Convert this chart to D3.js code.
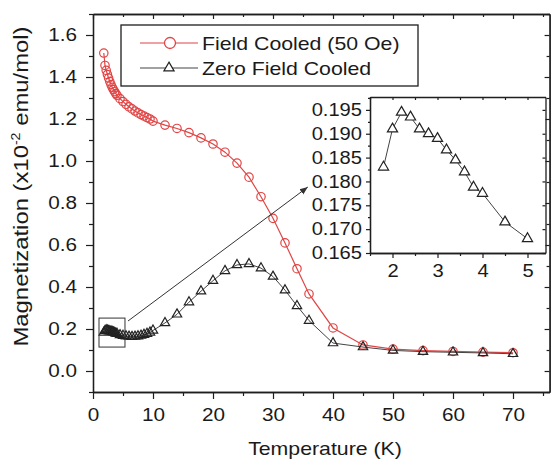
<!DOCTYPE html>
<html><head><meta charset="utf-8">
<script src="https://cdn.jsdelivr.net/npm/d3@7"></script>
<style>
body{margin:0;background:#fff}
text{font-family:"Liberation Sans",Arial,sans-serif;fill:#1a1a1a}
</style>
</head><body>
<svg id="c" width="551" height="461"></svg>
<script>
// ---- data ----
const fcTemp = [1.8,2.0,2.2,2.4,2.6,2.8,3.0,3.2,3.4,3.6,3.8,4.0,4.5,5.0,5.5,6.0,6.5,7.0,7.5,8.0,8.5,9.0,9.5,10,12,14,16,18,20,22,24,26,28,30,32,34,36,40,45,50,55,60,65,70];
const fcMag  = [1.514,1.455,1.432,1.412,1.395,1.378,1.364,1.351,1.340,1.330,1.321,1.313,1.297,1.283,1.270,1.258,1.248,1.238,1.229,1.221,1.214,1.207,1.200,1.190,1.171,1.155,1.135,1.110,1.081,1.042,0.990,0.923,0.830,0.727,0.610,0.487,0.367,0.205,0.124,0.104,0.097,0.093,0.090,0.087];
const zfcTemp = [1.8,2.0,2.2,2.4,2.6,2.8,3.0,3.2,3.4,3.6,3.8,4.0,4.5,5.0,5.5,6.0,6.5,7.0,7.5,8.0,8.5,9.0,9.5,10,12,14,16,18,20,22,24,26,28,30,32,34,36,40,45,50,55,60,65,70];
const zfcMag  = [0.183,0.191,0.1945,0.1935,0.191,0.190,0.189,0.1866,0.1845,0.182,0.1788,0.1775,0.1715,0.168,0.166,0.164,0.163,0.164,0.166,0.169,0.173,0.178,0.184,0.193,0.229,0.270,0.328,0.380,0.430,0.477,0.505,0.510,0.490,0.450,0.385,0.310,0.240,0.133,0.114,0.098,0.092,0.089,0.086,0.082];
const insetTemp = [1.8,2.0,2.2,2.4,2.6,2.8,3.0,3.2,3.4,3.6,3.8,4.0,4.5,5.0];
const insetMag  = [0.183,0.191,0.1945,0.1935,0.191,0.190,0.189,0.1866,0.1845,0.182,0.1788,0.1775,0.1715,0.168];
const xTicks = [0,10,20,30,40,50,60,70];
const xMinor = [5,15,25,35,45,55,65,75];
const yTicks = [0.0,0.2,0.4,0.6,0.8,1.0,1.2,1.4,1.6];
const yMinor = [-0.1,0.1,0.3,0.5,0.7,0.9,1.1,1.3,1.5,1.7];
const insetXTicks = [2,3,4,5];
const insetXMinor = [1.5,2.5,3.5,4.5];
const insetYTicks = [0.165,0.170,0.175,0.180,0.185,0.190,0.195];
const insetYMinor = [0.1675,0.1725,0.1775,0.1825,0.1875,0.1925,0.1975];
const seriesNames = ["Field Cooled (50 Oe)","Zero Field Cooled"];
const xTitle = "Temperature (K)";
// zoom box (data units) and arrow anchor
const zoomBox = {t0:1.0, t1:5.33, m0:0.114, m1:0.252};
const arrowFrom = [5.83, 0.238], arrowTo = [35.8, 0.876];

// ---- drawing ----
const RED = "#e04545", BLK = "#222", AX = "#1e1e1e";
const WIDEN = 1.15;
const svg = d3.select("#c");
const x = d3.scaleLinear().domain([0,76.1]).range([93,549.6]);
const y = d3.scaleLinear().domain([-0.1,1.7]).range([392,14]);
const xi = d3.scaleLinear().domain([1.5,5.4]).range([370,545.5]);
const yi = d3.scaleLinear().domain([0.165,0.1977]).range([253,97]);

function widen(sel, k){
  sel.each(function(){
    const w = this.getComputedTextLength();
    if (w > 0) d3.select(this).attr("textLength", w*k).attr("lengthAdjust","spacingAndGlyphs");
  });
}
function styleAxis(g, fs){
  g.selectAll("path.domain").attr("stroke",AX).attr("stroke-width",1.3);
  g.selectAll(".tick line").attr("stroke",AX).attr("stroke-width",1.2);
  const t = g.selectAll("text").attr("font-size",fs).attr("fill","#1a1a1a")
    .attr("font-family","Liberation Sans, Arial, sans-serif");
  widen(t, WIDEN);
}
function addAxis(axis, tx, ty, fs){
  const g = svg.append("g").attr("transform",`translate(${tx},${ty})`).call(axis);
  styleAxis(g, fs||18);
  return g;
}
const [X0,X1] = x.range(), [Y0,Y1] = y.range();
// main axes
addAxis(d3.axisBottom(x).tickValues(xTicks).tickSize(7).tickSizeOuter(0).tickPadding(9).tickFormat(d3.format("d")),0,Y0);
addAxis(d3.axisBottom(x).tickValues(xMinor).tickSize(4).tickSizeOuter(0).tickFormat(""),0,Y0);
addAxis(d3.axisLeft(y).tickValues(yTicks).tickSize(7).tickSizeOuter(0).tickPadding(9).tickFormat(d3.format(".1f")),X0,0);
addAxis(d3.axisLeft(y).tickValues(yMinor).tickSize(4).tickSizeOuter(0).tickFormat(""),X0,0);
addAxis(d3.axisTop(x).tickValues(xTicks).tickSize(-5).tickSizeOuter(0).tickFormat(""),0,Y1);
addAxis(d3.axisTop(x).tickValues(xMinor).tickSize(-3).tickSizeOuter(0).tickFormat(""),0,Y1);
addAxis(d3.axisRight(y).tickValues(yTicks).tickSize(-5).tickSizeOuter(0).tickFormat(""),X1,0);
addAxis(d3.axisRight(y).tickValues(yMinor).tickSize(-3).tickSizeOuter(0).tickFormat(""),X1,0);

// titles
const xt = svg.append("text").attr("x",325).attr("y",455).attr("text-anchor","middle")
  .attr("font-size",18.5).text(xTitle);
widen(xt, WIDEN);
const yt = svg.append("text").attr("transform","translate(28,186.5) rotate(-90)")
  .attr("text-anchor","middle").attr("font-size",21);
yt.append("tspan").text("Magnetization (x10");
yt.append("tspan").attr("font-size",12.5).attr("dy",-8).text("-2");
yt.append("tspan").attr("dy",8).text(" emu/mol)");
yt.attr("textLength",320).attr("lengthAdjust","spacingAndGlyphs");

// series
const fc = fcTemp.map((t,i)=>[t,fcMag[i]]);
const zfc = zfcTemp.map((t,i)=>[t,zfcMag[i]]);
const line = d3.line().x(d=>x(d[0])).y(d=>y(d[1]));
const tri = d3.symbol(d3.symbolTriangle, 38)();
const triL = d3.symbol(d3.symbolTriangle, 45)();

svg.append("path").attr("d",line(fc)).attr("fill","none").attr("stroke",RED).attr("stroke-width",1.2);
svg.append("g").selectAll("circle").data(fc).join("circle")
  .attr("cx",d=>x(d[0])).attr("cy",d=>y(d[1])).attr("r",4.2)
  .attr("fill","none").attr("stroke",RED).attr("stroke-width",1.2);
svg.append("path").attr("d",line(zfc)).attr("fill","none").attr("stroke","#444").attr("stroke-width",1);
svg.append("g").selectAll("path").data(zfc).join("path")
  .attr("d",tri).attr("transform",d=>`translate(${x(d[0])},${y(d[1])})`)
  .attr("fill","none").attr("stroke",BLK).attr("stroke-width",1.2);

// zoom box + arrow
svg.append("rect").attr("x",x(zoomBox.t0)).attr("y",y(zoomBox.m1))
  .attr("width",x(zoomBox.t1)-x(zoomBox.t0)).attr("height",y(zoomBox.m0)-y(zoomBox.m1))
  .attr("fill","none").attr("stroke","#333").attr("stroke-width",1);
svg.append("defs").append("marker").attr("id","ah").attr("viewBox","0 0 10 10")
  .attr("refX",10).attr("refY",5).attr("markerWidth",8).attr("markerHeight",8)
  .attr("markerUnits","userSpaceOnUse").attr("orient","auto")
  .append("path").attr("d","M0,1 L10,5 L0,9 Z").attr("fill","#333");
svg.append("line").attr("x1",x(arrowFrom[0])).attr("y1",y(arrowFrom[1]))
  .attr("x2",x(arrowTo[0])).attr("y2",y(arrowTo[1]))
  .attr("stroke","#333").attr("stroke-width",1).attr("marker-end","url(#ah)");

// legend
const lg = svg.append("g");
lg.append("rect").attr("x",121).attr("y",25).attr("width",297).attr("height",61)
  .attr("fill","#fff").attr("stroke",AX).attr("stroke-width",1.3);
seriesNames.forEach((name,i)=>{
  const cy = 43 + i*25;
  const col = i===0?RED:"#444";
  lg.append("line").attr("x1",140).attr("x2",198).attr("y1",cy).attr("y2",cy)
    .attr("stroke",col).attr("stroke-width",1.1);
  if(i===0) lg.append("circle").attr("cx",170).attr("cy",cy).attr("r",5.5)
     .attr("fill","#fff").attr("stroke",RED).attr("stroke-width",1.3);
  else lg.append("path").attr("d",triL).attr("transform",`translate(169,${cy})`)
     .attr("fill","#fff").attr("stroke",BLK).attr("stroke-width",1.2);
  const t = lg.append("text").attr("x",202).attr("y",cy).attr("dy","0.36em")
    .attr("font-size",18.5).text(name);
  widen(t, WIDEN);
});

// inset
const [IX0,IX1] = xi.range(), [IY0,IY1] = yi.range();
svg.append("rect").attr("x",IX0).attr("y",IY1).attr("width",IX1-IX0).attr("height",IY0-IY1)
  .attr("fill","#fff");
addAxis(d3.axisBottom(xi).tickValues(insetXTicks).tickSize(5).tickSizeOuter(0).tickPadding(7).tickFormat(d3.format("d")),0,IY0,17.5);
addAxis(d3.axisBottom(xi).tickValues(insetXMinor).tickSize(3).tickSizeOuter(0).tickFormat(""),0,IY0);
addAxis(d3.axisLeft(yi).tickValues(insetYTicks).tickSize(4).tickSizeOuter(0).tickPadding(4).tickFormat(d3.format(".3f")),IX0,0,17.5);
addAxis(d3.axisLeft(yi).tickValues(insetYMinor).tickSize(2).tickSizeOuter(0).tickFormat(""),IX0,0);
addAxis(d3.axisTop(xi).tickValues(insetXTicks.concat(insetXMinor)).tickSize(-3).tickSizeOuter(0).tickFormat(""),0,IY1);
addAxis(d3.axisRight(yi).tickValues(insetYTicks).tickSize(-3).tickSizeOuter(0).tickFormat(""),IX1,0);
const ins = insetTemp.map((t,i)=>[t,insetMag[i]]);
const lineI = d3.line().x(d=>xi(d[0])).y(d=>yi(d[1]));
svg.append("path").attr("d",lineI(ins)).attr("fill","none").attr("stroke","#444").attr("stroke-width",1);
svg.append("g").selectAll("path").data(ins).join("path")
  .attr("d",triL).attr("transform",d=>`translate(${xi(d[0])},${yi(d[1])})`)
  .attr("fill","#fff").attr("stroke",BLK).attr("stroke-width",1.2);
</script>
</body></html>
